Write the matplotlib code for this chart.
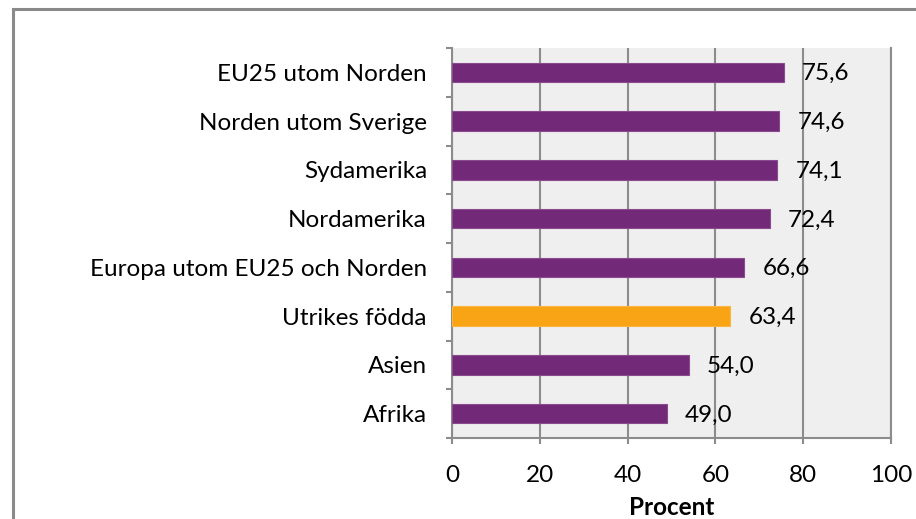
import matplotlib
matplotlib.use("Agg")
import matplotlib.pyplot as plt
from matplotlib.patches import Rectangle
from matplotlib.ticker import FixedLocator
import numpy as np

# data, bottom to top
regions = ["Afrika", "Asien", "Utrikes födda", "Europa utom EU25 och Norden",
           "Nordamerika", "Sydamerika", "Norden utom Sverige", "EU25 utom Norden"]
values = [49.0, 54.0, 63.4, 66.6, 72.4, 74.1, 74.6, 75.6]
highlight = "Utrikes födda"

PURPLE = "#722A78"
ORANGE = "#F9A414"
GRID = "#8C8C8C"
FS = 17.5

plt.rcParams["font.family"] = ["Lato", "DejaVu Sans"]

fig = plt.figure(figsize=(9.16, 5.19), dpi=100)
ax = fig.add_axes([452 / 916, 1 - 438 / 519, 439 / 916, 390 / 519])

# outer chart frame (runs off the right/bottom edge like the source)
fig.patches.append(Rectangle((13 / 916, -0.5), 1.5, (1 - 9 / 519) + 0.5,
                             transform=fig.transFigure, fill=False,
                             edgecolor="#8A8A8A", lw=2.2, zorder=0))

y = np.arange(len(regions))
colors = [ORANGE if r == highlight else PURPLE for r in regions]
ax.barh(y, values, height=0.4, color=colors, zorder=3,
        edgecolor=["#FBB540" if r == highlight else "#8A4A8E" for r in regions], lw=0.8)
for yi, v in zip(y, values):
    ax.annotate(f"{v:.1f}".replace(".", ","), (v, yi), xytext=(13, -1),
                textcoords="offset points", va="center", ha="left",
                fontsize=FS, zorder=4)

ax.set_facecolor("#EFEFEF")
ax.set_xlim(0, 100)
ax.set_ylim(-0.5, len(regions) - 0.5)
ax.set_xticks(range(0, 101, 20))
ax.set_yticks(y)
ax.set_yticklabels(regions, fontsize=FS)
ax.yaxis.set_minor_locator(FixedLocator(np.arange(-0.5, len(regions), 1.0)))
ax.tick_params(axis="y", which="major", length=0, pad=18)
ax.tick_params(axis="y", which="minor", length=4.5, width=1.5, color=GRID)
ax.tick_params(axis="x", length=4.5, width=1.5, color=GRID, labelsize=FS, pad=15)
ax.grid(axis="x", color=GRID, lw=1.5, zorder=1)
ax.spines["top"].set_visible(False)
for s in ["left", "bottom", "right"]:
    ax.spines[s].set_color(GRID)
    ax.spines[s].set_linewidth(1.5)
ax.set_xlabel("Procent", fontsize=FS, fontweight="bold", labelpad=7)

fig.savefig("out.png", dpi=100)
